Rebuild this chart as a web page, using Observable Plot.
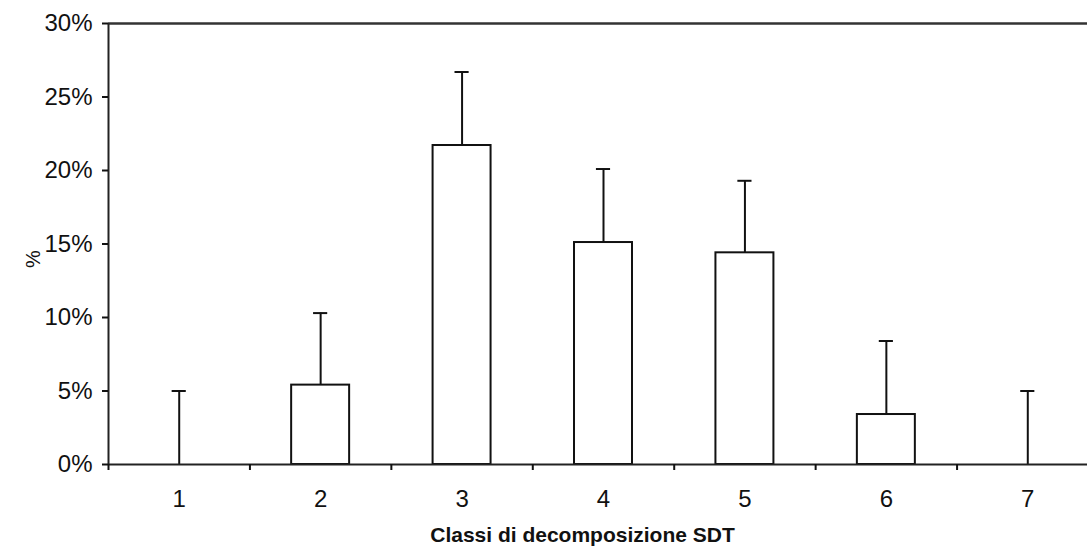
<!DOCTYPE html>
<html>
<head>
<meta charset="utf-8">
<script src="https://cdn.jsdelivr.net/npm/d3@7"></script>
<script src="https://cdn.jsdelivr.net/npm/@observablehq/plot@0.6"></script>
<style>
  html, body { margin: 0; padding: 0; background: #fff; overflow: hidden; }
  #chart svg { max-width: none !important; display: block; }
</style>
</head>
<body>
<div id="chart"></div>
<script>
const classes = [1, 2, 3, 4, 5, 6, 7];
const values = [0, 5.4, 21.7, 15.1, 14.4, 3.4, 0];
const errors = [5.0, 4.9, 5.0, 5.0, 4.9, 5.0, 5.0];
const yTicks = [0, 5, 10, 15, 20, 25, 30];
const xTitle = "Classi di decomposizione SDT";
const yTitle = "%";

const data = classes.map((c, i) => ({cls: c, value: values[i], err: errors[i]}));
const boundaries = [...classes.map(c => c - 0.5), classes[classes.length - 1] + 0.5];
const halfBar = 0.205, halfCap = 0.05;
const ink = "#111";

const chart = Plot.plot({
  width: 1100,
  height: 547,
  marginLeft: 108,
  marginRight: 2,
  marginTop: 23,
  marginBottom: 83,
  style: {fontFamily: "'Liberation Sans', Arial, sans-serif", fontSize: "24px", color: ink, background: "#fff"},
  x: {domain: [0.5, 7.5]},
  y: {domain: [0, 30]},
  marks: [
    Plot.rectY(data.filter(d => d.value > 0), {
      x1: d => d.cls - halfBar, x2: d => d.cls + halfBar, y1: 0, y2: "value",
      fill: "white", stroke: ink, strokeWidth: 2
    }),
    Plot.ruleX(data, {x: "cls", y1: "value", y2: d => d.value + d.err, stroke: ink, strokeWidth: 2}),
    Plot.ruleY(data, {y: d => d.value + d.err, x1: d => d.cls - halfCap, x2: d => d.cls + halfCap, stroke: ink, strokeWidth: 2}),
    Plot.ruleY([0], {stroke: "#222", strokeWidth: 2}),
    Plot.ruleY([30], {stroke: "#333", strokeWidth: 2.5}),
    Plot.ruleX([0.5], {stroke: "#222", strokeWidth: 2}),
    Plot.axisY({ticks: yTicks, tickFormat: d => d + "%", tickSize: 6, tickPadding: 10, strokeWidth: 2,
      fontSize: 24, label: null}),
    Plot.axisX({ticks: boundaries, tickSize: 6, tickFormat: () => "", label: null, strokeWidth: 2}),
    Plot.axisX({ticks: classes, tickSize: 0, tickPadding: 25, tickFormat: d => String(d), fontSize: 24, label: null}),
    Plot.text([yTitle], {text: d => d, frameAnchor: "left", dx: -75, dy: 24, rotate: -90, fontSize: 20, fill: ink}),
    Plot.text([xTitle], {text: d => d, frameAnchor: "bottom", dy: 71, dx: -21, fontSize: 21, fontWeight: "bold", lineAnchor: "middle", fill: ink})
  ]
});
document.getElementById("chart").appendChild(chart);
</script>
</body>
</html>
